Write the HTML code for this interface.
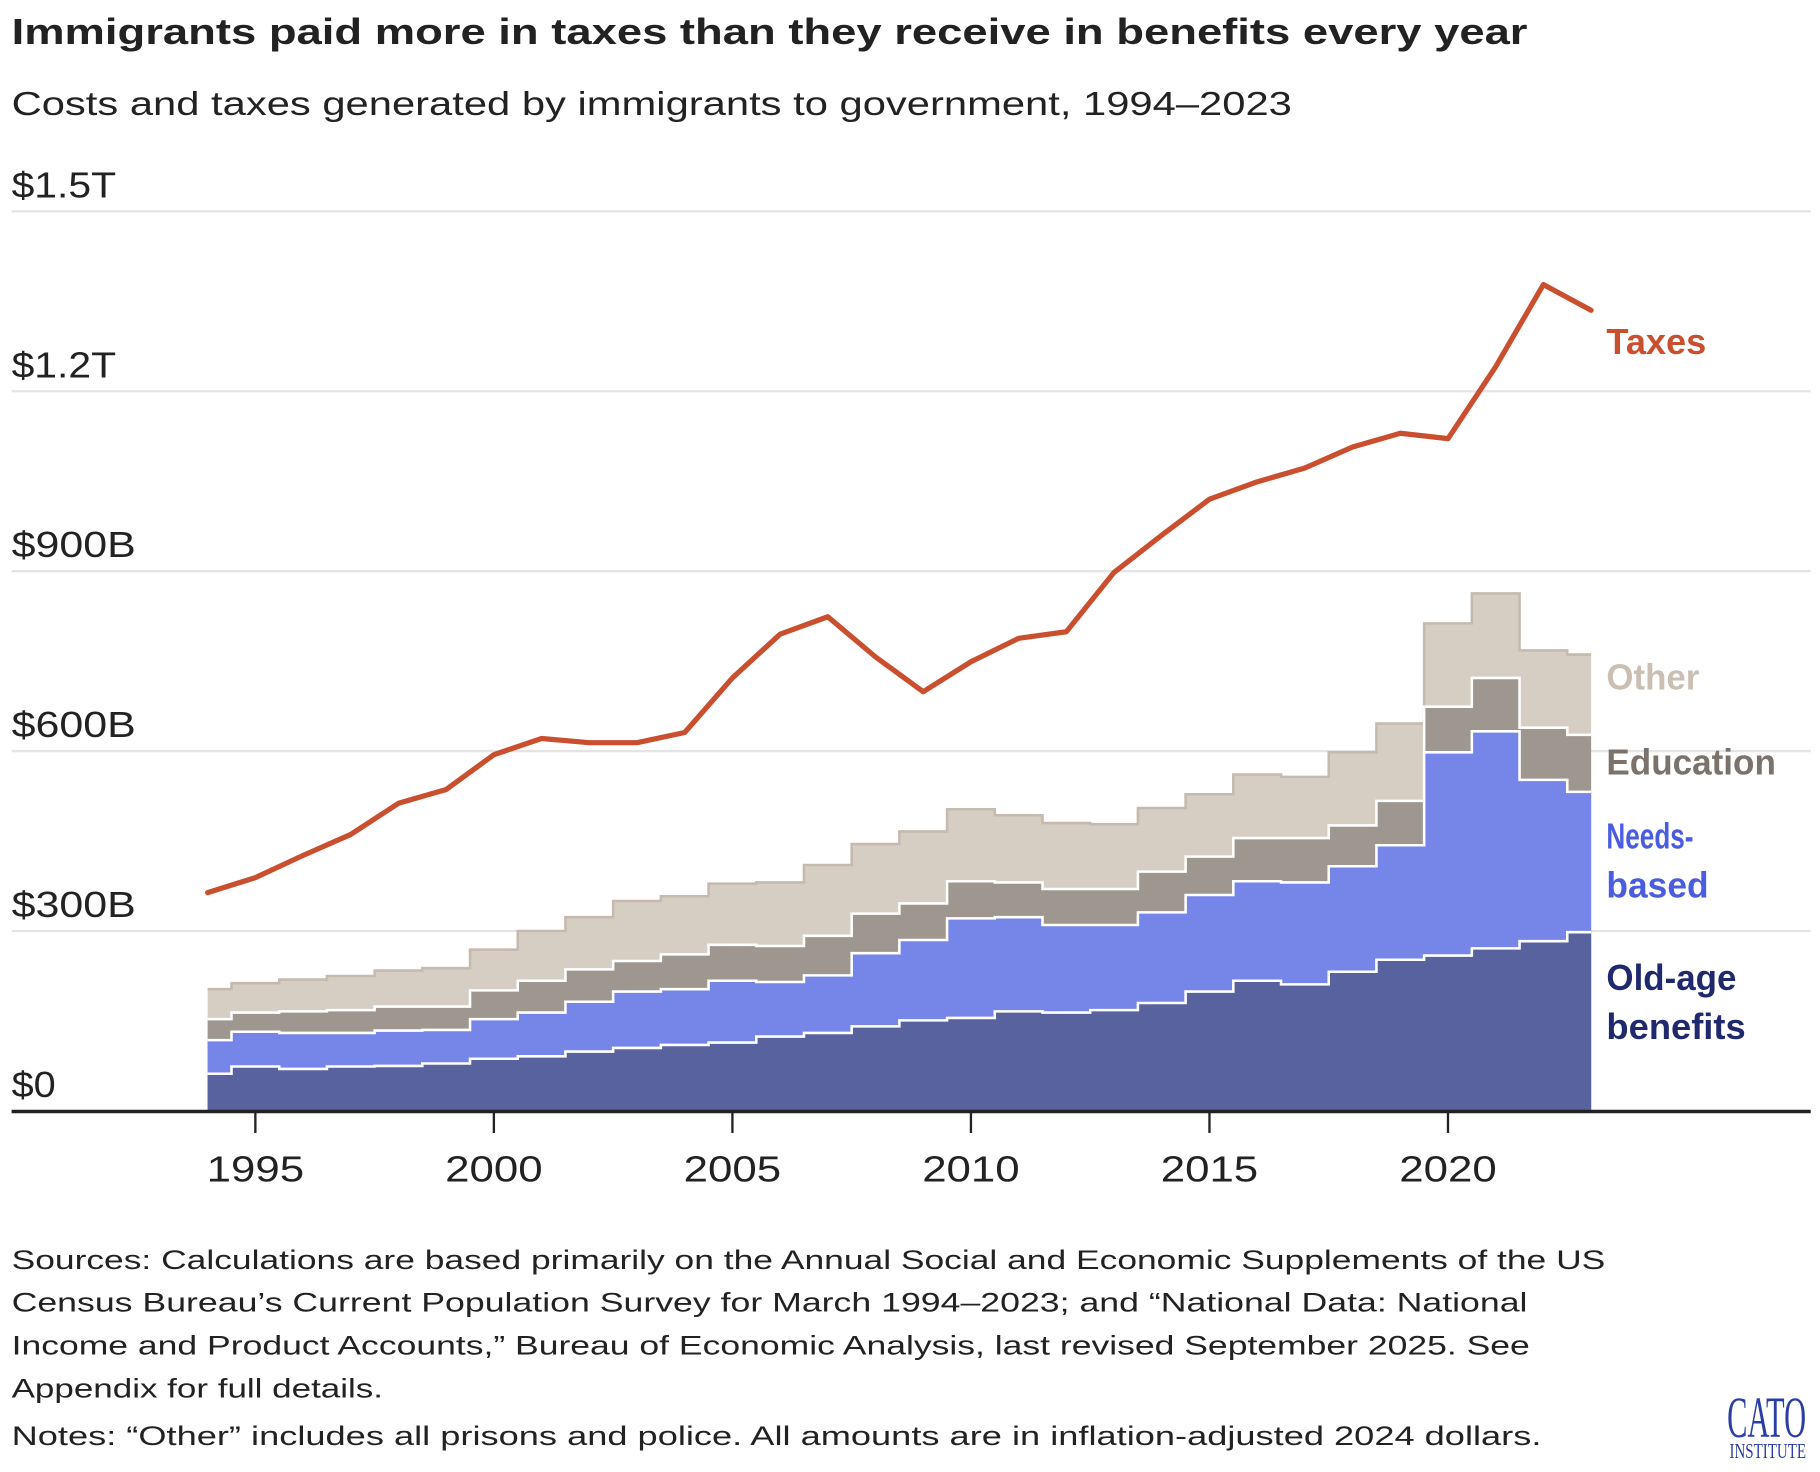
<!DOCTYPE html>
<html><head><meta charset="utf-8"><style>
html,body{margin:0;padding:0;background:#fff;}
svg{display:block;font-family:"Liberation Sans",sans-serif;}
</style></head><body>
<svg id="chart" width="1820" height="1472" viewBox="0 0 1568 1268" xmlns="http://www.w3.org/2000/svg">
<text x="10" y="38" font-size="31" font-weight="bold" fill="#222" textLength="1306" lengthAdjust="spacingAndGlyphs">Immigrants paid more in taxes than they receive in benefits every year</text>
<text x="10" y="99" font-size="29" fill="#222" textLength="1103" lengthAdjust="spacingAndGlyphs">Costs and taxes generated by immigrants to government, 1994–2023</text>
<g id="grid"></g>
<g id="areas"></g>
<g id="line"></g>
<g id="axis"></g>
<g font-weight="bold" font-size="31">
<text x="1384" y="305" fill="#c94f2f" textLength="86" lengthAdjust="spacingAndGlyphs">Taxes</text>
<text x="1384" y="594" fill="#cbbfb3" textLength="80" lengthAdjust="spacingAndGlyphs">Other</text>
<text x="1384" y="667" fill="#7b726b" textLength="146" lengthAdjust="spacingAndGlyphs">Education</text>
<text x="1384" y="731" fill="#4a5ce0" textLength="75" lengthAdjust="spacingAndGlyphs">Needs-</text>
<text x="1384" y="773" fill="#4a5ce0" textLength="88" lengthAdjust="spacingAndGlyphs">based</text>
<text x="1384" y="853" fill="#1f2a6e" textLength="112" lengthAdjust="spacingAndGlyphs">Old-age</text>
<text x="1384" y="895" fill="#1f2a6e" textLength="120" lengthAdjust="spacingAndGlyphs">benefits</text>
</g>
<g font-size="23" fill="#222">
<text x="10" y="1093" textLength="1373" lengthAdjust="spacingAndGlyphs">Sources: Calculations are based primarily on the Annual Social and Economic Supplements of the US</text>
<text x="10" y="1130" textLength="1306" lengthAdjust="spacingAndGlyphs">Census Bureau’s Current Population Survey for March 1994–2023; and “National Data: National</text>
<text x="10" y="1167" textLength="1308" lengthAdjust="spacingAndGlyphs">Income and Product Accounts,” Bureau of Economic Analysis, last revised September 2025. See</text>
<text x="10" y="1204" textLength="320" lengthAdjust="spacingAndGlyphs">Appendix for full details.</text>
<text x="10" y="1245" textLength="1318" lengthAdjust="spacingAndGlyphs">Notes: “Other” includes all prisons and police. All amounts are in inflation-adjusted 2024 dollars.</text>
</g>
<g fill="#2a3fa6" font-family="'Liberation Serif',serif">
<text x="1488" y="1238" font-size="50" textLength="68" lengthAdjust="spacingAndGlyphs">CATO</text>
<text x="1490" y="1256" font-size="18" textLength="66" lengthAdjust="spacingAndGlyphs">INSTITUTE</text>
</g>
</svg>
<script>
const years=[1994,1995,1996,1997,1998,1999,2000,2001,2002,2003,2004,2005,2006,2007,2008,2009,2010,2011,2012,2013,2014,2015,2016,2017,2018,2019,2020,2021,2022,2023];
const taxes=[364,389,426,461,513,536,594,621,614,614,631,722,795,824,757,699,749,788,799,898,960,1020,1049,1072,1107,1130,1121,1241,1378,1335];
const oldAgeTop=[62,74,70,74,75,79,87,91,99,105,110,114,124,130,141,151,155,166,164,168,180,199,217,211,232,252,259,271,283,298];
const needsTop=[118,132,130,130,134,135,153,164,182,199,203,217,215,226,263,285,321,323,310,310,331,360,383,381,408,443,598,633,552,532];
const educationTop=[153,164,166,168,174,174,201,217,236,250,261,277,275,292,329,346,383,381,370,370,399,424,455,455,476,517,674,722,639,627];
const otherTop=[203,213,219,225,234,238,269,300,323,350,358,379,381,410,445,466,503,493,480,478,505,528,561,557,598,646,813,863,768,761];
const yTicks=[0,300,600,900,1200,1500];
const yTickLabels=["$0","$300B","$600B","$900B","$1.2T","$1.5T"];
const xTicks=[1995,2000,2005,2010,2015,2020];

const NS="http://www.w3.org/2000/svg";
const X=y=>220+(y-1995)*41.1;
const Y=v=>957-v*155/300;
function mk(tag,attrs,parent){const e=document.createElementNS(NS,tag);for(const k in attrs)e.setAttribute(k,attrs[k]);parent.appendChild(e);return e;}

const grid=document.getElementById('grid');
yTicks.forEach((t,i)=>{
  if(t>0){const l=mk('line',{x1:10,x2:1560,y1:Y(t),y2:Y(t),stroke:'#e4e4e4','stroke-width':2},grid);
  
  }
  const lab=yTickLabels[i];
  const w=lab.length===2?38:(lab.length===5&&lab.indexOf('T')>0?90:107);
  const tx=mk('text',{x:10,y:Y(t)-12,'font-size':31,fill:'#222',textLength:w,lengthAdjust:'spacingAndGlyphs'},grid);
  tx.textContent=lab;
  
  
});

function stepPts(arr){
  const pts=[];
  const n=arr.length;
  for(let i=0;i<n;i++){
    const x0=i===0?X(years[0]):X(years[i]-0.5);
    const x1=i===n-1?X(years[n-1]):X(years[i]+0.5);
    pts.push([x0,Y(arr[i])],[x1,Y(arr[i])]);
  }
  return pts;
}
const areas=document.getElementById('areas');
const layers=[[otherTop,'#d6cdc3','#c6baae','area-other'],[educationTop,'#9d9790','#fff','area-education'],[needsTop,'#7585e8','#fff','area-needs-based'],[oldAgeTop,'#58629e','#fff','area-old-age']];
layers.forEach(([arr,fill,stroke,name])=>{
  const pts=stepPts(arr);
  const d='M'+X(years[0])+','+Y(0)+' '+pts.map(p=>'L'+p[0]+','+p[1]).join(' ')+' L'+X(years[years.length-1])+','+Y(0)+'Z';
  const p=mk('path',{d:d,fill:fill},areas);
  
  
  const s=mk('polyline',{points:pts.map(q=>q.join(',')).join(' '),fill:'none',stroke:stroke,'stroke-width':2.2},areas);
  
  
});

const lg=document.getElementById('line');
const tl=mk('polyline',{points:years.map((y,i)=>X(y)+','+Y(taxes[i])).join(' '),fill:'none',stroke:'#c94f2f','stroke-width':4.5,'stroke-linejoin':'round','stroke-linecap':'round'},lg);



const ax=document.getElementById('axis');
const al=mk('line',{x1:10,x2:1560,y1:957.5,y2:957.5,stroke:'#222','stroke-width':3},ax);


xTicks.forEach(t=>{
  const tk=mk('line',{x1:X(t),x2:X(t),y1:957,y2:976,stroke:'#222','stroke-width':2},ax);
  
  
  const tx=mk('text',{x:X(t),y:1018,'font-size':31,fill:'#222','text-anchor':'middle',textLength:84,lengthAdjust:'spacingAndGlyphs'},ax);
  tx.textContent=t;
  
  
});
</script>
</body></html>
